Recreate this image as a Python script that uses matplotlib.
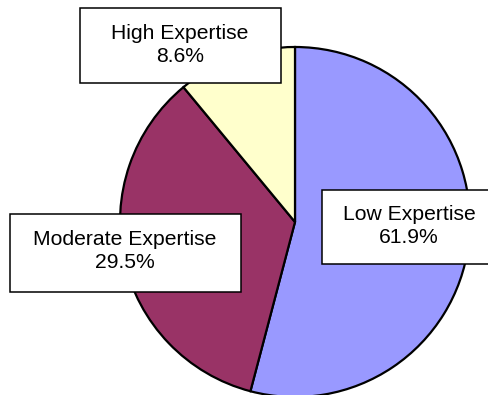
import matplotlib.pyplot as plt
from matplotlib.patches import Rectangle

# slice sizes as drawn (the printed percentages differ from the drawn wedges)
categories = ["Low Expertise", "Moderate Expertise", "High Expertise"]
slice_sizes = [54.1, 34.9, 11.0]
shown_pct = ["61.9%", "29.5%", "8.6%"]
colors = ["#9999FF", "#993366", "#FFFFCC"]

W, H = 489, 395
fig = plt.figure(figsize=(W / 100, H / 100), dpi=100)
ax = fig.add_axes([0, 0, 1, 1])

ax.pie(slice_sizes, colors=colors, startangle=90, counterclock=False,
       center=(295, H - 222), radius=175,
       wedgeprops=dict(edgecolor="black", linewidth=1.6))
ax.set_xlim(0, W)
ax.set_ylim(0, H)
ax.set_aspect("auto")
ax.axis("off")

# label boxes: (left, top, right, bottom) in image pixels, text centre
boxes = {
    "Low Expertise": ((322, 190, 495, 264), (409, 226)),
    "Moderate Expertise": ((10, 214, 241, 292), (125, 251)),
    "High Expertise": ((80, 8, 281, 83), (180, 45)),
}

for cat, pct in zip(categories, shown_pct):
    (l, t, r, b), (tx, ty) = boxes[cat]
    ax.add_patch(Rectangle((l, H - b), r - l, b - t, facecolor="white",
                           edgecolor="black", linewidth=1.1, zorder=5))
    ax.text(tx, H - ty, f"{cat}\n{pct}", ha="center", va="center",
            fontsize=15.2, family="Liberation Sans", linespacing=1.3, zorder=6)

fig.savefig("out.png", dpi=100)
